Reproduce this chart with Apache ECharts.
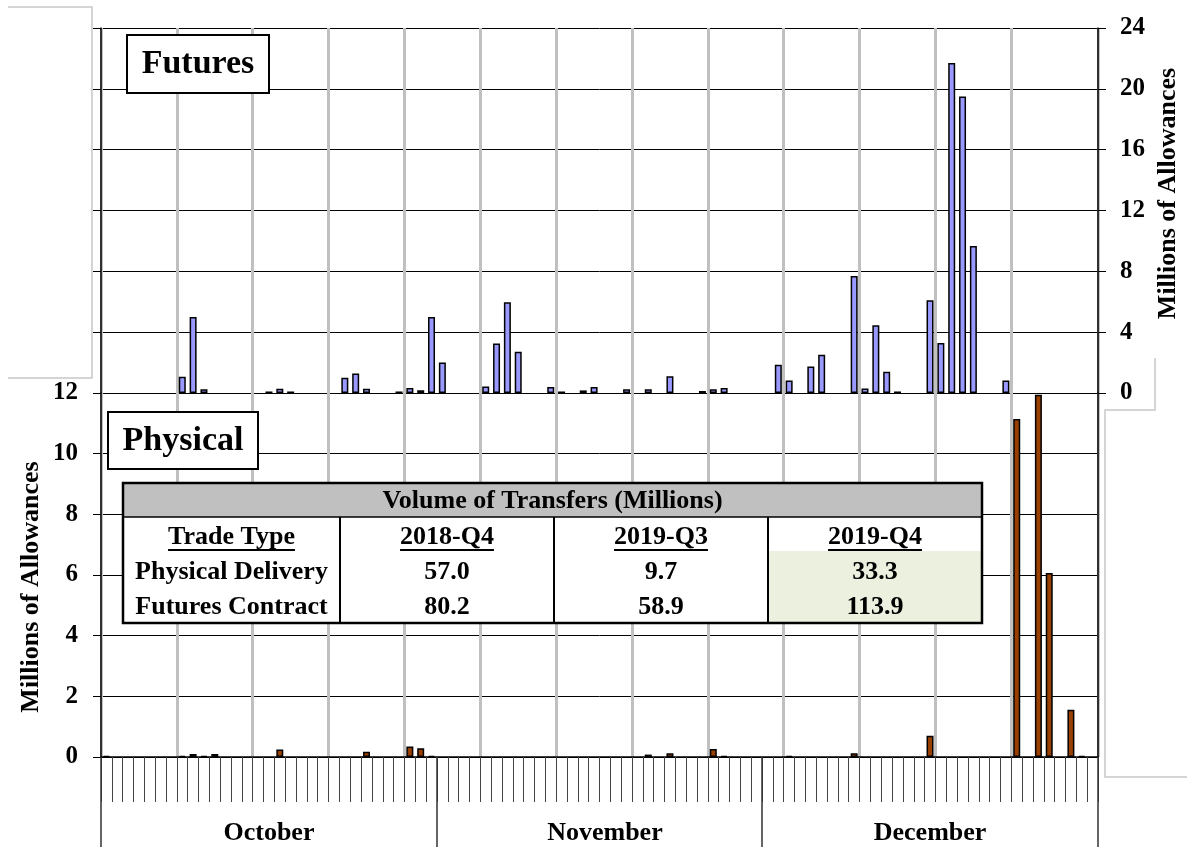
<!DOCTYPE html>
<html>
<head>
<meta charset="utf-8">
<script src="https://cdn.jsdelivr.net/npm/echarts@6/dist/echarts.min.js"></script>
<style>
  html, body { margin: 0; padding: 0; background: #fff; }
  #main { width: 1187px; height: 849px; }
</style>
</head>
<body>
<div id="main"></div>
<script>
// months on the category axis
const months = ['October', 'November', 'December']
const monthLength = [31, 30, 31]

// futures volume, day index from Oct 1 -> millions of allowances
const futuresDay = [7, 8, 9, 15, 16, 17, 22, 23, 24, 27, 28, 29, 30, 31, 35, 36, 37, 38, 41, 42, 44, 45, 48, 50, 52, 55, 56, 57, 62, 63, 65, 66, 69, 70, 71, 72, 73, 76, 77, 78, 79, 80, 83]
const futuresValue = [1.07, 5.0, 0.24, 0.1, 0.28, 0.1, 1.0, 1.29, 0.28, 0.1, 0.33, 0.18, 5.0, 2.0, 0.43, 3.26, 5.96, 2.72, 0.4, 0.1, 0.17, 0.4, 0.24, 0.24, 1.1, 0.13, 0.24, 0.33, 1.86, 0.83, 1.75, 2.52, 7.7, 0.3, 4.45, 1.4, 0.1, 6.1, 3.29, 21.7, 19.5, 9.66, 0.83]

// physical delivery volume
const physicalDay = [0, 7, 8, 9, 10, 16, 24, 28, 29, 30, 50, 52, 56, 57, 63, 69, 76, 84, 86, 87, 89, 90]
const physicalValue = [0.04, 0.04, 0.1, 0.04, 0.1, 0.25, 0.17, 0.35, 0.29, 0.04, 0.08, 0.12, 0.26, 0.04, 0.04, 0.12, 0.7, 11.14, 11.94, 6.07, 1.56, 0.04]

// inset table
const tableTitle = 'Volume of Transfers (Millions)'
const tableHead = ['Trade Type', '2018-Q4', '2019-Q3', '2019-Q4']
const tableRows = [
  ['Physical Delivery', '57.0', '9.7', '33.3'],
  ['Futures Contract', '80.2', '58.9', '113.9']
]

const serif = "'Liberation Serif', 'Times New Roman', serif"
const bold = { fontFamily: serif, fontWeight: 'bold', color: '#000' }

// build the day categories and sparse series
const days = []
const monthStart = []
months.forEach((m, k) => {
  monthStart.push(days.length)
  for (let d = 1; d <= monthLength[k]; d++) days.push(m.slice(0, 3) + ' ' + d)
})
const monthMid = monthStart.map((s, k) => s + Math.floor(monthLength[k] / 2))

const futures = days.map(() => null)
futuresDay.forEach((d, i) => { futures[d] = futuresValue[i] })
const physical = days.map(() => null)
physicalDay.forEach((d, i) => { physical[d] = physicalValue[i] })

const weekLine = {
  show: true,
  interval: (i) => i % 7 === 0 && i < 91,
  lineStyle: { color: '#c0c0c0', width: 3 }
}

const ctx = document.createElement('canvas').getContext('2d')
function textWidth(str, font) {
  ctx.font = font
  return ctx.measureText(str).width
}

// table geometry
const colX = [123, 340, 554, 768, 982]
const tTop = 483, tHead = 517, tBottom = 623
const rowY = [537, 572, 607]
const tableFont = 'bold 26px ' + serif
const Z = 100

function txt(x, y, text, font) {
  return { type: 'text', z: Z + 2, x: x, y: y, style: { text: text, font: font, fill: '#000', align: 'center', verticalAlign: 'middle' } }
}
function seg(x1, y1, x2, y2, w) {
  return { type: 'line', z: Z + 1, shape: { x1: x1, y1: y1, x2: x2, y2: y2 }, style: { stroke: '#000', lineWidth: w } }
}

const tableItems = [
  { type: 'rect', z: Z, shape: { x: colX[0], y: tTop, width: colX[4] - colX[0], height: tBottom - tTop }, style: { fill: '#fff' } },
  { type: 'rect', z: Z, shape: { x: colX[0], y: tTop, width: colX[4] - colX[0], height: tHead - tTop }, style: { fill: '#c0c0c0' } },
  { type: 'rect', z: Z, shape: { x: colX[3], y: 551, width: colX[4] - colX[3], height: tBottom - 551 }, style: { fill: '#ebf0df' } },
  seg(colX[0], tHead, colX[4], tHead, 1.5),
  txt((colX[0] + colX[4]) / 2, (tTop + tHead) / 2 + 1, tableTitle, tableFont)
]
for (let c = 1; c < 4; c++) tableItems.push(seg(colX[c], tHead, colX[c], tBottom, 2))
tableHead.forEach((h, c) => {
  const cx = (colX[c] + colX[c + 1]) / 2
  const w = textWidth(h, tableFont)
  tableItems.push(txt(cx, rowY[0], h, tableFont))
  tableItems.push(seg(cx - w / 2, rowY[0] + 13, cx + w / 2, rowY[0] + 13, 2))
})
tableRows.forEach((row, r) => {
  row.forEach((v, c) => tableItems.push(txt((colX[c] + colX[c + 1]) / 2, rowY[r + 1], v, tableFont)))
})
tableItems.push({ type: 'rect', z: Z + 3, shape: { x: colX[0], y: tTop, width: colX[4] - colX[0], height: tBottom - tTop }, style: { fill: 'none', stroke: '#000', lineWidth: 2.5 } })

const frame = { stroke: '#c8c8c8', lineWidth: 1.5, fill: 'none' }
const labelFont = 'bold 34px ' + serif

const chart = echarts.init(document.getElementById('main'))
chart.setOption({
  animation: false,
  backgroundColor: '#fff',
  grid: [
    { left: 101, right: 89, top: 28, height: 365, outerBoundsMode: 'none' },
    { left: 101, right: 89, top: 393, height: 364, outerBoundsMode: 'none' }
  ],
  xAxis: [
    {
      type: 'category', gridIndex: 0, data: days,
      axisLine: { show: false }, axisTick: { show: false }, axisLabel: { show: false },
      splitLine: weekLine
    },
    {
      type: 'category', gridIndex: 1, data: days, position: 'bottom',
      axisLine: { show: true, lineStyle: { color: '#000', width: 1.5 } },
      axisTick: { show: true, interval: 0, length: 45, lineStyle: { color: '#444', width: 1 } },
      axisLabel: { show: false },
      splitLine: weekLine
    },
    {
      type: 'category', gridIndex: 1, data: days, position: 'bottom', offset: 0,
      axisLine: { show: false },
      axisTick: { show: true, length: 90, interval: (i) => monthStart.includes(i), lineStyle: { color: '#333', width: 1.5 } },
      axisLabel: {
        show: true, interval: (i) => monthMid.includes(i), margin: 63,
        formatter: (v, i) => months[monthMid.indexOf(i)] || '',
        ...bold, fontSize: 26
      },
      splitLine: { show: false }
    }
  ],
  yAxis: [
    {
      type: 'value', gridIndex: 0, position: 'right', min: 0, max: 24, interval: 4,
      name: 'Millions of Allowances', nameLocation: 'middle', nameRotate: 90, nameGap: 57,
      nameMoveOverlap: false,
      nameTextStyle: { ...bold, fontSize: 26, padding: [0, 0, 0, 34] },
      axisLine: { show: true, lineStyle: { color: '#000', width: 1.5 } },
      axisTick: { show: true, length: 8, lineStyle: { color: '#000' } },
      axisLabel: { ...bold, fontSize: 25, margin: 22 },
      splitLine: { show: true, lineStyle: { color: '#000', width: 1 } }
    },
    {
      type: 'value', gridIndex: 0, position: 'left', min: 0, max: 24, interval: 4,
      axisLine: { show: true, lineStyle: { color: '#000', width: 1.5 } },
      axisTick: { show: true, length: 8, lineStyle: { color: '#000' } },
      axisLabel: { show: false }, splitLine: { show: false }
    },
    {
      type: 'value', gridIndex: 1, position: 'left', min: 0, max: 12, interval: 2,
      name: 'Millions of Allowances', nameLocation: 'middle', nameRotate: 90, nameGap: 57,
      nameMoveOverlap: false,
      nameTextStyle: { ...bold, fontSize: 26, padding: [0, 24, 0, 0] },
      axisLine: { show: true, lineStyle: { color: '#000', width: 1.5 } },
      axisTick: { show: true, length: 8, lineStyle: { color: '#000' } },
      axisLabel: { ...bold, fontSize: 25, margin: 23 },
      splitLine: { show: true, lineStyle: { color: '#000', width: 1 } }
    },
    {
      type: 'value', gridIndex: 1, position: 'right', min: 0, max: 12, interval: 2,
      axisLine: { show: true, lineStyle: { color: '#000', width: 1.5 } },
      axisTick: { show: false }, axisLabel: { show: false }, splitLine: { show: false }
    }
  ],
  series: [
    {
      name: 'Futures', type: 'bar', xAxisIndex: 0, yAxisIndex: 0, data: futures,
      barWidth: 7,
      itemStyle: { color: '#9999ff', borderColor: '#000', borderWidth: 1.5 }
    },
    {
      name: 'Physical', type: 'bar', xAxisIndex: 1, yAxisIndex: 2, data: physical,
      barWidth: 7,
      itemStyle: { color: '#993f00', borderColor: '#000', borderWidth: 1.5 }
    }
  ],
  graphic: [
    // leftover chart-area borders
    { type: 'polyline', z: 1, shape: { points: [[8, 7], [92, 7], [92, 378], [8, 378]] }, style: frame },
    { type: 'polyline', z: 1, shape: { points: [[1155, 358], [1155, 410], [1105, 410], [1105, 777], [1187, 777]] }, style: frame },
    // panel labels
    { type: 'rect', z: Z, shape: { x: 127, y: 35, width: 142, height: 58 }, style: { fill: '#fff', stroke: '#000', lineWidth: 2 } },
    txt(198, 64, 'Futures', labelFont),
    { type: 'rect', z: Z, shape: { x: 108, y: 412, width: 150, height: 57 }, style: { fill: '#fff', stroke: '#000', lineWidth: 2 } },
    txt(183, 441, 'Physical', labelFont),
    ...tableItems
  ]
})
</script>
</body>
</html>
